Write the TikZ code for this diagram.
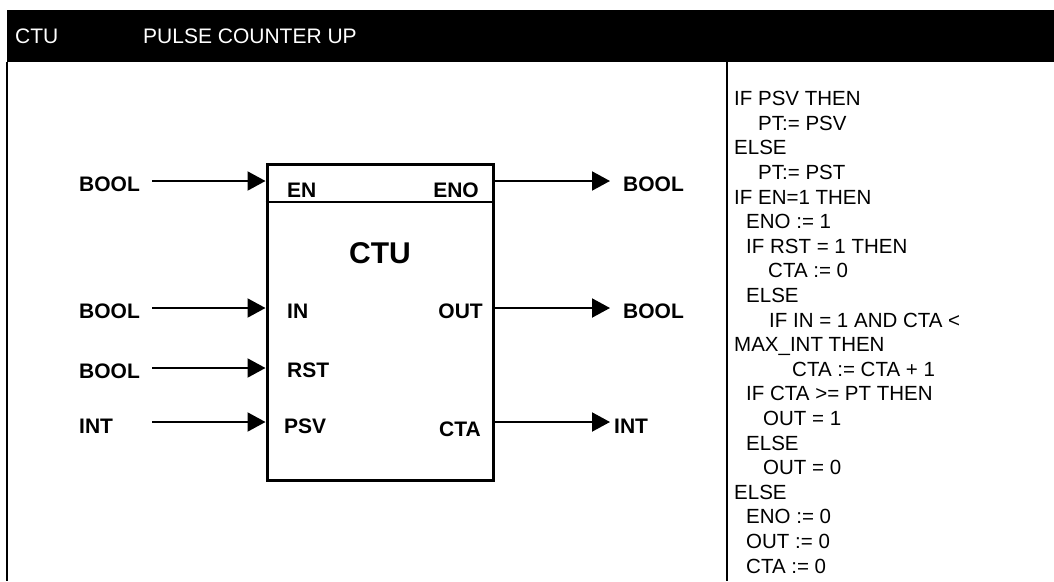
\documentclass[tikz,border=0pt]{standalone}
\usepackage{fontspec}
\setmainfont{Liberation Sans}
\usetikzlibrary{arrows.meta}
\begin{document}
\begin{tikzpicture}[x=1pt,y=-1pt,
  lbl/.style={font=\fontsize{21}{23}\selectfont\bfseries, inner sep=0pt, anchor=base west},
  lblr/.style={font=\fontsize{21}{23}\selectfont\bfseries, inner sep=0pt, anchor=base east},
  sig/.style={line width=2pt, -{Triangle[length=18pt,width=19pt]}},
  hdr/.style={font=\fontsize{21}{23}\selectfont, text=white, inner sep=0pt, anchor=base west},
  rule/.style={line width=2pt}]
\useasboundingbox (0,0) rectangle (1054,581);
\fill[black] (7,10) rectangle (1054,62);
\node[hdr] (h1) at (15,43) {CTU};
\node[hdr] (h2) at (143,43) {PULSE COUNTER UP};
\draw[rule] (7,62) -- (7,581);
\draw[rule] (727,62) -- (727,581);
% block
\node[draw, line width=3pt, minimum width=226pt, minimum height=316pt, inner sep=0pt] (blk) at (380,322) {};
\draw[line width=2.5pt] (blk.west |- 0,202) -- (blk.east |- 0,202);
\node[font=\fontsize{30}{32}\selectfont\bfseries, inner sep=0pt] (title) at (380,253) {CTU};
\node[lbl] (en) at (287,197) {EN};
\node[lblr] (eno) at (479,197) {ENO};
\node[lbl] (in) at (287,318) {IN};
\node[lblr] (out) at (483,318) {OUT};
\node[lbl] (rst) at (287,377) {RST};
\node[lbl] (psv) at (284,433) {PSV};
\node[lblr] (cta) at (481,436) {CTA};
% outer labels
\node[lbl] (b1) at (79,191) {BOOL};
\node[lbl] (b2) at (79,318) {BOOL};
\node[lbl] (b3) at (79,378) {BOOL};
\node[lbl] (i1) at (79,433) {INT};
\node[lbl] (b4) at (623,191) {BOOL};
\node[lbl] (b5) at (623,318) {BOOL};
\node[lbl] (i2) at (614,433) {INT};
% arrows
\coordinate (s1) at (152,181); \coordinate (s2) at (152,308);
\coordinate (s3) at (152,368); \coordinate (s4) at (152,422);
\coordinate (t1) at (610,181); \coordinate (t2) at (610,308); \coordinate (t3) at (610,422);
\draw[sig] (s1) -- (s1 -| blk.west);
\draw[sig] (s2) -- (s2 -| blk.west);
\draw[sig] (s3) -- (s3 -| blk.west);
\draw[sig] (s4) -- (s4 -| blk.west);
\draw[sig] (t1 -| blk.east) -- (t1);
\draw[sig] (t2 -| blk.east) -- (t2);
\draw[sig] (t3 -| blk.east) -- (t3);
% code
\node[inner sep=0pt, anchor=base west, align=left, font=\fontsize{20.5}{24.6}\selectfont] (code) at (734,573) {%
IF PSV THEN\\
\hspace*{24pt}PT:= PSV\\
ELSE\\
\hspace*{24pt}PT:= PST\\
IF EN=1 THEN\\
\hspace*{12pt}ENO := 1\\
\hspace*{12pt}IF RST = 1 THEN\\
\hspace*{34pt}CTA := 0\\
\hspace*{12pt}ELSE\\
\hspace*{35pt}IF IN = 1 AND CTA <\\
MAX\_INT THEN\\
\hspace*{58pt}CTA := CTA + 1\\
\hspace*{12pt}IF CTA >= PT THEN\\
\hspace*{29pt}OUT = 1\\
\hspace*{12pt}ELSE\\
\hspace*{29pt}OUT = 0\\
ELSE\\
\hspace*{12pt}ENO := 0\\
\hspace*{12pt}OUT := 0\\
\hspace*{12pt}CTA := 0};
\end{tikzpicture}
\end{document}
